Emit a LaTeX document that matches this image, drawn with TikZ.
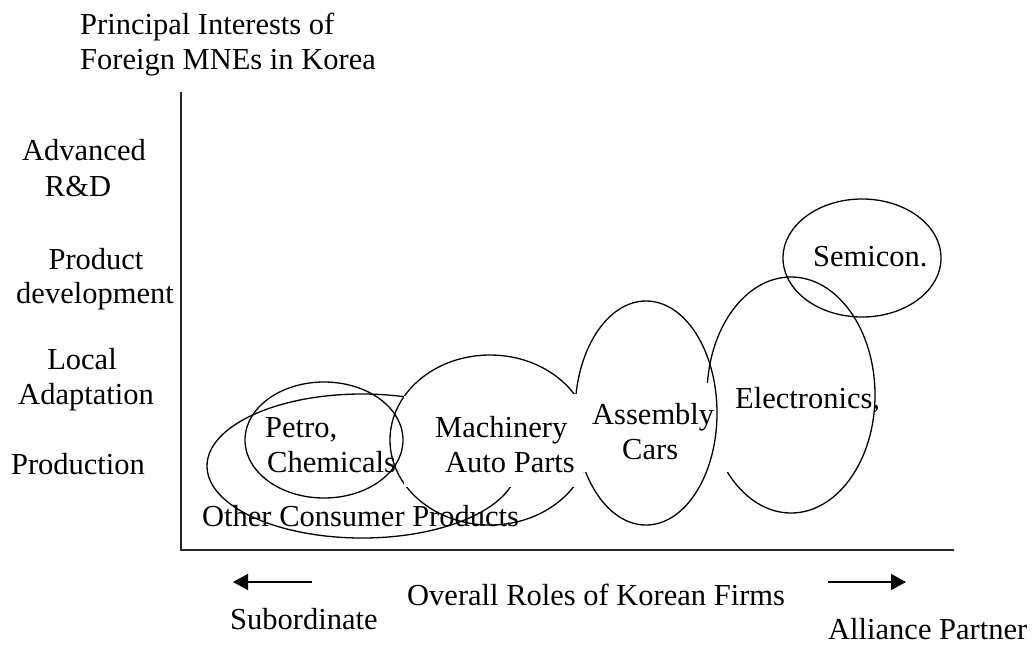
\documentclass[tikz,border=0pt]{standalone}
\usepackage{fontspec}
\setmainfont{Liberation Serif}
\usetikzlibrary{arrows.meta}
\tikzset{
  lbl/.style={inner sep=0pt, font=\fontsize{30.5}{35}\selectfont},
  lw/.style={lbl, anchor=base west},
  lc/.style={lbl, anchor=base},
  oval/.style={draw=black, line width=1.3pt},
  axisline/.style={draw=black!85, line width=2pt},
  cover/.style={fill=white, draw=none},
  dirarrow/.style={line width=1.6pt, -{Triangle[length=15pt,width=16pt]}}
}
\begin{document}
\begin{tikzpicture}[x=1pt,y=-1pt]
\useasboundingbox (0,0) rectangle (1032,646);
% axes
\coordinate (ytop) at (181,92);
\coordinate (orig) at (181,550);
\coordinate (xend) at (954,550);
\draw[axisline] (ytop) -- (orig) -- (xend);
% ellipses (layered as in the reference)
\draw[oval] (362,466) ellipse [x radius=155, y radius=72];   % other consumer products
\draw[oval] (490,440) ellipse [x radius=100, y radius=85];   % machinery
\fill[cover] (404,396) rectangle (583,487);
\draw[oval] (324,440) ellipse [x radius=79, y radius=58];    % petro
\draw[oval] (791,395) ellipse [x radius=84, y radius=118];   % electronics
\fill[cover] (700,383) rectangle (845,472);
\draw[oval] (646,413) ellipse [x radius=71, y radius=112];   % assembly
\fill[cover] (573,394) rectangle (704,472);
\draw[oval] (862,258) ellipse [x radius=79, y radius=59];    % semicon
% titles
\node[lw] (t1) at (80,34) {Principal Interests of};
\node[lw] (t2) at (80,69) {Foreign MNEs in Korea};
% y-axis categories
\node[lc] (adv1) at (84,160) {Advanced};
\node[lc] (adv2) at (78,196) {R\&D};
\node[lc] (pd1) at (96,269) {Product};
\node[lc] (pd2) at (95,303) {development};
\node[lc] (la1) at (82,369) {Local};
\node[lc] (la2) at (86,404) {Adaptation};
\node[lc] (pr) at (78,474) {Production};
% ellipse labels
\node[lw] (pe1) at (265,437) {Petro,};
\node[lw] (pe2) at (267,472) {Chemicals};
\node[lw] (ma1) at (435,437) {Machinery};
\node[lw] (ma2) at (445,472) {Auto Parts};
\node[lw] (as1) at (592,424) {Assembly};
\node[lw] (as2) at (622,459) {Cars};
\node[lw] (el) at (735,408) {Electronics,};
\node[lw] (se) at (813,266) {Semicon.};
\node[lw] (oc) at (202,526) {Other Consumer Products};
% x-axis
\node[lw] (xl) at (407,605) {Overall Roles of Korean Firms};
\node[lw] (sub) at (230,629) {Subordinate};
\node[lw] (all) at (828,639) {Alliance Partner};
\coordinate (la) at (312,582);
\coordinate (lb) at (233,582);
\coordinate (ra) at (828,582);
\coordinate (rb) at (906,582);
\draw[dirarrow] (la) -- (lb);
\draw[dirarrow] (ra) -- (rb);
\end{tikzpicture}
\end{document}
